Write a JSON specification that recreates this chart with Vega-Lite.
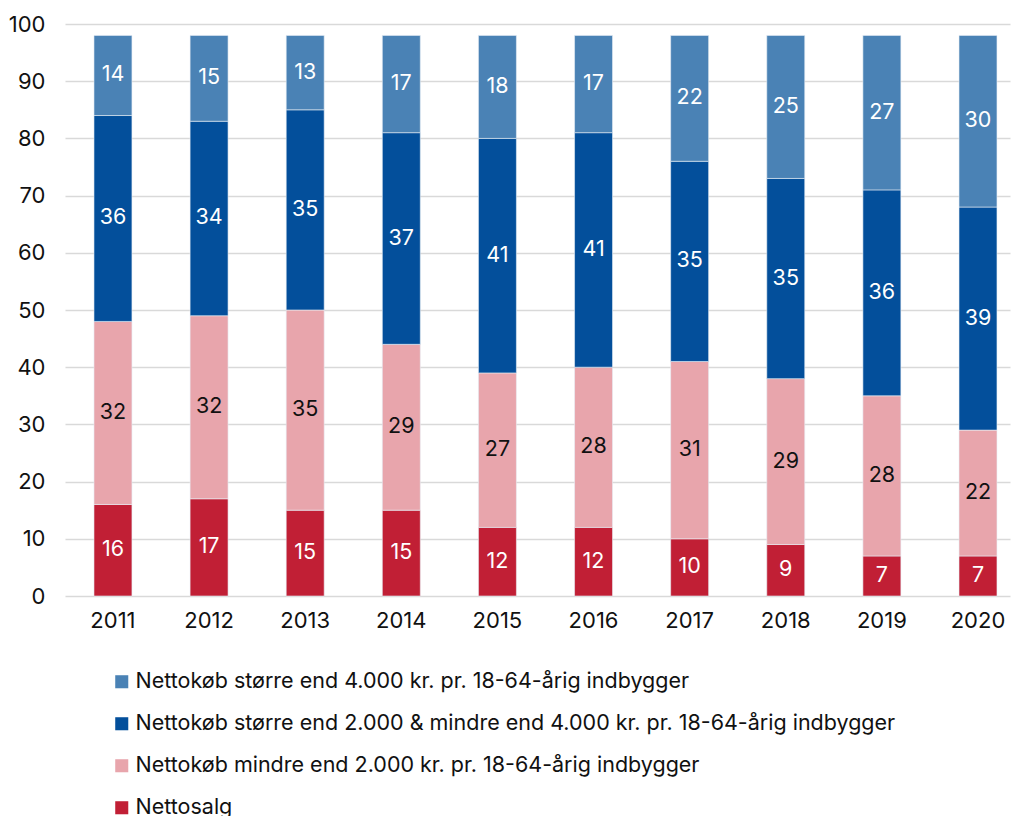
{
  "$schema": "https://vega.github.io/schema/vega-lite/v6.json",
  "autosize": "none",
  "width": 945,
  "height": 572,
  "padding": {"left": 65, "top": 24, "right": 3, "bottom": 220},
  "background": "white",
  "config": {
    "font": "Inter",
    "view": {"stroke": null},
    "axis": {"labelFont": "Inter", "labelFontSize": 22, "labelColor": "#111111"},
    "legend": {"labelFont": "Inter"}
  },
  "data": {
    "values": [
      {"year": "2011", "cat": "Nettosalg", "o": 1, "v": 16},
      {"year": "2011", "cat": "Nettokøb mindre end 2.000 kr. pr. 18-64-årig indbygger", "o": 2, "v": 32},
      {"year": "2011", "cat": "Nettokøb større end 2.000 & mindre end 4.000 kr. pr. 18-64-årig indbygger", "o": 3, "v": 36},
      {"year": "2011", "cat": "Nettokøb større end 4.000 kr. pr. 18-64-årig indbygger", "o": 4, "v": 14},
      {"year": "2012", "cat": "Nettosalg", "o": 1, "v": 17},
      {"year": "2012", "cat": "Nettokøb mindre end 2.000 kr. pr. 18-64-årig indbygger", "o": 2, "v": 32},
      {"year": "2012", "cat": "Nettokøb større end 2.000 & mindre end 4.000 kr. pr. 18-64-årig indbygger", "o": 3, "v": 34},
      {"year": "2012", "cat": "Nettokøb større end 4.000 kr. pr. 18-64-årig indbygger", "o": 4, "v": 15},
      {"year": "2013", "cat": "Nettosalg", "o": 1, "v": 15},
      {"year": "2013", "cat": "Nettokøb mindre end 2.000 kr. pr. 18-64-årig indbygger", "o": 2, "v": 35},
      {"year": "2013", "cat": "Nettokøb større end 2.000 & mindre end 4.000 kr. pr. 18-64-årig indbygger", "o": 3, "v": 35},
      {"year": "2013", "cat": "Nettokøb større end 4.000 kr. pr. 18-64-årig indbygger", "o": 4, "v": 13},
      {"year": "2014", "cat": "Nettosalg", "o": 1, "v": 15},
      {"year": "2014", "cat": "Nettokøb mindre end 2.000 kr. pr. 18-64-årig indbygger", "o": 2, "v": 29},
      {"year": "2014", "cat": "Nettokøb større end 2.000 & mindre end 4.000 kr. pr. 18-64-årig indbygger", "o": 3, "v": 37},
      {"year": "2014", "cat": "Nettokøb større end 4.000 kr. pr. 18-64-årig indbygger", "o": 4, "v": 17},
      {"year": "2015", "cat": "Nettosalg", "o": 1, "v": 12},
      {"year": "2015", "cat": "Nettokøb mindre end 2.000 kr. pr. 18-64-årig indbygger", "o": 2, "v": 27},
      {"year": "2015", "cat": "Nettokøb større end 2.000 & mindre end 4.000 kr. pr. 18-64-årig indbygger", "o": 3, "v": 41},
      {"year": "2015", "cat": "Nettokøb større end 4.000 kr. pr. 18-64-årig indbygger", "o": 4, "v": 18},
      {"year": "2016", "cat": "Nettosalg", "o": 1, "v": 12},
      {"year": "2016", "cat": "Nettokøb mindre end 2.000 kr. pr. 18-64-årig indbygger", "o": 2, "v": 28},
      {"year": "2016", "cat": "Nettokøb større end 2.000 & mindre end 4.000 kr. pr. 18-64-årig indbygger", "o": 3, "v": 41},
      {"year": "2016", "cat": "Nettokøb større end 4.000 kr. pr. 18-64-årig indbygger", "o": 4, "v": 17},
      {"year": "2017", "cat": "Nettosalg", "o": 1, "v": 10},
      {"year": "2017", "cat": "Nettokøb mindre end 2.000 kr. pr. 18-64-årig indbygger", "o": 2, "v": 31},
      {"year": "2017", "cat": "Nettokøb større end 2.000 & mindre end 4.000 kr. pr. 18-64-årig indbygger", "o": 3, "v": 35},
      {"year": "2017", "cat": "Nettokøb større end 4.000 kr. pr. 18-64-årig indbygger", "o": 4, "v": 22},
      {"year": "2018", "cat": "Nettosalg", "o": 1, "v": 9},
      {"year": "2018", "cat": "Nettokøb mindre end 2.000 kr. pr. 18-64-årig indbygger", "o": 2, "v": 29},
      {"year": "2018", "cat": "Nettokøb større end 2.000 & mindre end 4.000 kr. pr. 18-64-årig indbygger", "o": 3, "v": 35},
      {"year": "2018", "cat": "Nettokøb større end 4.000 kr. pr. 18-64-årig indbygger", "o": 4, "v": 25},
      {"year": "2019", "cat": "Nettosalg", "o": 1, "v": 7},
      {"year": "2019", "cat": "Nettokøb mindre end 2.000 kr. pr. 18-64-årig indbygger", "o": 2, "v": 28},
      {"year": "2019", "cat": "Nettokøb større end 2.000 & mindre end 4.000 kr. pr. 18-64-årig indbygger", "o": 3, "v": 36},
      {"year": "2019", "cat": "Nettokøb større end 4.000 kr. pr. 18-64-årig indbygger", "o": 4, "v": 27},
      {"year": "2020", "cat": "Nettosalg", "o": 1, "v": 7},
      {"year": "2020", "cat": "Nettokøb mindre end 2.000 kr. pr. 18-64-årig indbygger", "o": 2, "v": 22},
      {"year": "2020", "cat": "Nettokøb større end 2.000 & mindre end 4.000 kr. pr. 18-64-årig indbygger", "o": 3, "v": 39},
      {"year": "2020", "cat": "Nettokøb større end 4.000 kr. pr. 18-64-årig indbygger", "o": 4, "v": 30}
    ]
  },
  "transform": [
    {"stack": "v", "groupby": ["year"], "sort": [{"field": "o", "order": "ascending"}], "as": ["y0", "y1"]},
    {"calculate": "(datum.y0 + datum.y1) / 2", "as": "mid"}
  ],
  "encoding": {
    "x": {
      "field": "year", "type": "ordinal",
      "scale": {"paddingInner": 0.605, "paddingOuter": 0.2185, "align": 0.69},
      "axis": {"title": null, "labelAngle": 0, "ticks": false, "domain": false, "labelPadding": 14, "grid": false}
    }
  },
  "layer": [
    {
      "mark": {"type": "bar", "stroke": "#e8eef5", "strokeWidth": 0.6},
      "encoding": {
        "y": {
          "field": "y0", "type": "quantitative",
          "scale": {"domain": [0, 100]},
          "axis": {"title": null, "values": [0,10,20,30,40,50,60,70,80,90,100], "ticks": false, "domain": false, "labelPadding": 20, "gridColor": "#d9d9d9", "gridWidth": 1.5}
        },
        "y2": {"field": "y1"},
        "color": {
          "field": "cat", "type": "nominal",
          "scale": {
            "domain": [
              "Nettokøb større end 4.000 kr. pr. 18-64-årig indbygger",
              "Nettokøb større end 2.000 & mindre end 4.000 kr. pr. 18-64-årig indbygger",
              "Nettokøb mindre end 2.000 kr. pr. 18-64-årig indbygger",
              "Nettosalg"
            ],
            "range": ["#4A82B5", "#034F9B", "#E8A5AC", "#C11F35"]
          },
          "legend": {
            "title": null, "orient": "none", "legendX": 46, "legendY": 647,
            "direction": "vertical", "symbolType": "square", "symbolSize": 170,
            "symbolStrokeWidth": 0, "labelFontSize": 21.5, "labelColor": "#111111",
            "rowPadding": 19, "labelLimit": 900, "labelOffset": 3
          }
        }
      }
    },
    {
      "mark": {"type": "text", "fontSize": 21.5, "font": "Inter", "baseline": "middle"},
      "encoding": {
        "y": {"field": "mid", "type": "quantitative"},
        "text": {"field": "v", "type": "quantitative"},
        "color": {
          "condition": {"test": "datum.o == 2", "value": "#111111"},
          "value": "white"
        }
      }
    }
  ]
}
